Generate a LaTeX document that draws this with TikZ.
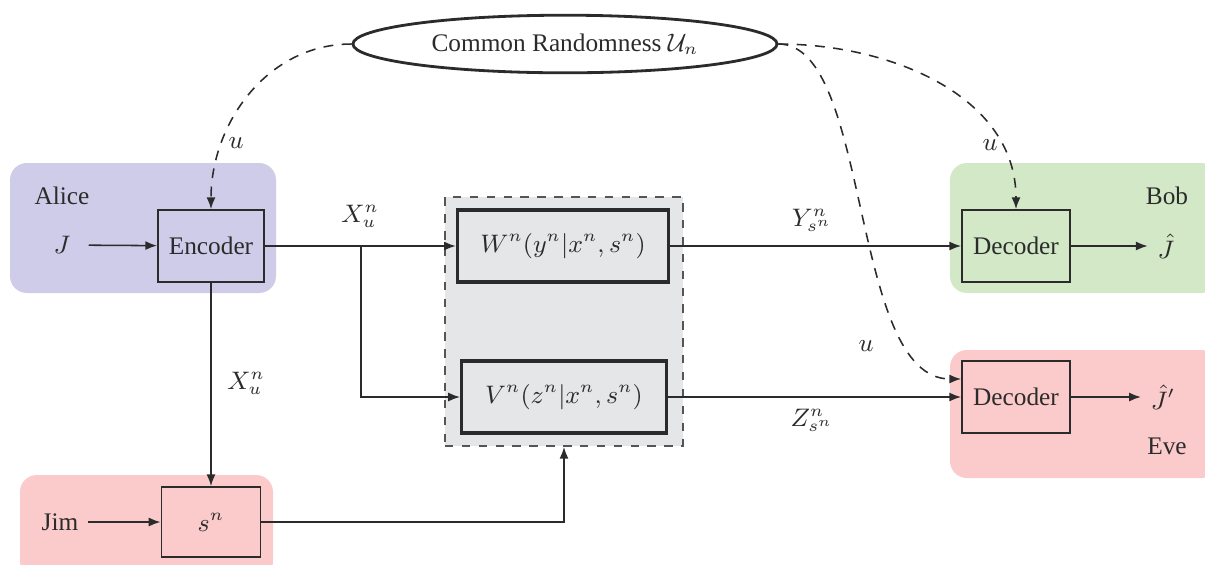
\documentclass[tikz,border=0pt]{standalone}
\usepackage{fontspec}
\setmainfont{Liberation Serif}
\usepackage{amsmath}
\usetikzlibrary{arrows.meta,positioning,shapes.geometric}
\definecolor{alicebox}{HTML}{CFCCE9}
\definecolor{bobbox}{HTML}{D2E8C6}
\definecolor{pinkbox}{HTML}{FBCBCC}
\definecolor{chanbox}{HTML}{E5E6E8}
\definecolor{linegray}{HTML}{2B2B2B}

\begin{document}
\begin{tikzpicture}[
  x=0.0125cm,y=-0.0125cm,
  font=\fontsize{9}{11}\selectfont,
  every node/.style={text=linegray},
  blk/.style={draw=linegray,line width=0.6pt,minimum width=1.325cm,minimum height=0.9cm,inner sep=0pt},
  chan/.style={draw=linegray,line width=1.1pt,minimum height=0.9cm,inner sep=0pt},
  party/.style={rounded corners=6pt},
  arr/.style={-{Latex[length=4.2pt,width=3.2pt]},line width=0.55pt,draw=linegray},
  darr/.style={arr,dash pattern=on 3.5pt off 3pt}
]
\useasboundingbox (0,0) rectangle (1205,564);
% party backgrounds
\fill[alicebox,party] (10,163) rectangle (276,293);
\fill[bobbox,party] (950,163) rectangle (1218,293);
\fill[pinkbox,party] (950,350) rectangle (1218,478);
\fill[pinkbox,party] (20,475) rectangle (273,578);
\node[draw=linegray!80,dashed,line width=0.6pt,fill=chanbox,minimum width=2.975cm,minimum height=3.1125cm] (chbox) at (564,321.5) {};

\node[draw=linegray,ellipse,line width=1pt,minimum width=5.3cm,minimum height=0.72cm,inner sep=0pt] (ell) at (565,44) {Common Randomness $\mathcal{U}_n$};
\node[blk] (enc) at (211,246) {Encoder};
\node[chan,minimum width=2.64cm] (W) at (563,246) {$W^n(y^n|x^n,s^n)$};
\node[chan,minimum width=2.56cm] (V) at (564,397) {$V^n(z^n|x^n,s^n)$};
\node[blk,minimum width=1.35cm] (decB) at (1016,246) {Decoder};
\node[blk,minimum width=1.35cm] (decE) at (1016,397) {Decoder};
\node[blk,minimum width=1.24cm,minimum height=0.875cm] (sn) at (211,522) {$s^n$};

\node (alice) at (62,196) {Alice};
\node (bob) at (1167,196) {Bob};
\node (eve) at (1167,446) {Eve};
\node (J) at (62,245) {$J$};
\node (jim) at (60,522) {Jim};
\node (jhat) at (1166,246) {$\hat{J}$};
\node (jhatp) at (1163,397) {$\hat{J}'$};
\coordinate (br) at (361,246);

% solid connectors
\draw[arr,shorten <=3pt] (J) -- (enc);
\draw[arr] (jim) -- (sn);
\draw[linegray,line width=0.55pt] (enc.east) -- (br);
\draw[arr] (br) -- (W.west);
\draw[arr] (br) |- (V.west);
\draw[arr] (enc.south) -- (sn.north);
\draw[arr] (sn.east) -| (chbox.south);
\draw[arr] (W.east) -- (decB.west);
\draw[arr] (V.east) -- (decE.west);
\draw[arr] (decB.east) -- (jhat);
\draw[arr] (decE.east) -- (jhatp);

% signal labels
\node at (360,216) {$X_u^n$};
\node at (246,383) {$X_u^n$};
\node at (812,220) {$Y_{s^n}^n$};
\node at (812,420) {$Z_{s^n}^n$};

% common randomness
\draw[darr] (ell.west) to[out=180,in=90] (enc.north);
\draw[darr] (ell.east) to[out=0,in=90] (decB.north);
\draw[darr] (ell.east) .. controls +(93,0) and +(-112,0) .. ([yshift=0.225cm]decE.west);
\node at (236,143) {$u$};
\node at (990,145) {$u$};
\node at (866,346) {$u$};
\end{tikzpicture}
\end{document}
